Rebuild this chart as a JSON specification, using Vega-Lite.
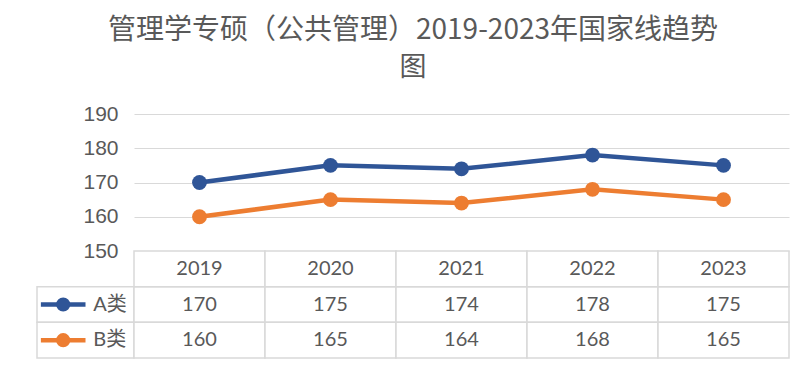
{
  "$schema": "https://vega.github.io/schema/vega-lite/v6.json",
  "background": "white",
  "padding": {"left": 36, "top": 17, "right": 24, "bottom": 20},
  "title": {
    "text": "管理学专硕（公共管理）2019-2023年国家线趋势",
    "subtitle": "图",
    "fontSize": 28,
    "subtitleFontSize": 27,
    "font": "Noto Sans CJK SC",
    "subtitleFont": "Noto Sans CJK SC",
    "fontWeight": "normal",
    "subtitleFontWeight": "normal",
    "color": "#595959",
    "subtitleColor": "#595959",
    "subtitlePadding": 10,
    "anchor": "middle",
    "offset": 22
  },
  "datasets": {
    "scores": [
      {"year": "2019", "series": "A类", "value": 170},
      {"year": "2020", "series": "A类", "value": 175},
      {"year": "2021", "series": "A类", "value": 174},
      {"year": "2022", "series": "A类", "value": 178},
      {"year": "2023", "series": "A类", "value": 175},
      {"year": "2019", "series": "B类", "value": 160},
      {"year": "2020", "series": "B类", "value": 165},
      {"year": "2021", "series": "B类", "value": 164},
      {"year": "2022", "series": "B类", "value": 168},
      {"year": "2023", "series": "B类", "value": 165}
    ]
  },
  "data": {"name": "scores"},
  "columns": 2,
  "spacing": 0,
  "bounds": "flush",
  "concat": [
    {
      "width": 97,
      "height": 137,
      "data": {"values": [{}]},
      "mark": "text",
      "encoding": {"text": {"value": ""}}
    },
    {
      "width": 655,
      "height": 137,
      "encoding": {
        "x": {"field": "year", "type": "ordinal", "scale": {"type": "point", "padding": 0.5}, "axis": null},
        "y": {
          "field": "value",
          "type": "quantitative",
          "scale": {"domain": [150, 190], "nice": false, "zero": false},
          "axis": {
            "values": [150, 160, 170, 180, 190],
            "domain": false,
            "ticks": false,
            "grid": true,
            "gridColor": "#d9d9d9",
            "labelFontSize": 21,
            "labelColor": "#595959",
            "labelFont": "Liberation Sans",
            "labelPadding": 16,
            "title": null
          }
        },
        "color": {
          "field": "series",
          "type": "nominal",
          "scale": {"domain": ["A类", "B类"], "range": ["#2F5597", "#ED7D31"]},
          "legend": null
        }
      },
      "layer": [
        {"mark": {"type": "line", "strokeWidth": 4.5}},
        {"mark": {"type": "point", "filled": true, "size": 220, "opacity": 1}}
      ]
    },
    {
      "width": 97,
      "height": 107,
      "transform": [{"aggregate": [{"op": "count", "as": "n"}], "groupby": ["series"]}],
      "encoding": {
        "y": {
          "field": "series",
          "type": "nominal",
          "scale": {"type": "band", "domain": ["header", "A类", "B类"], "paddingInner": 0, "paddingOuter": 0},
          "axis": null
        },
        "color": {
          "field": "series",
          "type": "nominal",
          "scale": {"domain": ["A类", "B类"], "range": ["#2F5597", "#ED7D31"]},
          "legend": null
        }
      },
      "layer": [
        {
          "mark": {"type": "rect", "fill": "white", "stroke": "#d9d9d9", "strokeWidth": 1.5},
          "encoding": {"color": {"value": "white"}}
        },
        {
          "mark": {"type": "rule", "strokeWidth": 4.5},
          "encoding": {
            "x": {"datum": 0.04, "type": "quantitative", "scale": {"domain": [0, 1]}, "axis": null},
            "x2": {"datum": 0.5}
          }
        },
        {
          "mark": {"type": "point", "filled": true, "size": 200, "opacity": 1},
          "encoding": {
            "x": {"datum": 0.27, "type": "quantitative", "scale": {"domain": [0, 1]}, "axis": null}
          }
        },
        {
          "mark": {"type": "text", "align": "left", "baseline": "middle", "fontSize": 20, "font": "Lato, Noto Sans CJK SC", "color": "#595959"},
          "encoding": {
            "x": {"datum": 0.58, "type": "quantitative", "scale": {"domain": [0, 1]}, "axis": null},
            "text": {"field": "series"},
            "color": {"value": "#595959"}
          }
        }
      ]
    },
    {
      "width": 655,
      "height": 107,
      "encoding": {
        "x": {"field": "year", "type": "ordinal", "scale": {"type": "band", "paddingInner": 0, "paddingOuter": 0}, "axis": null}
      },
      "layer": [
        {
          "mark": {"type": "rect", "fill": "white", "stroke": "#d9d9d9", "strokeWidth": 1.5},
          "encoding": {
            "y": {
              "field": "series",
              "type": "nominal",
              "scale": {"type": "band", "domain": ["header", "A类", "B类"], "paddingInner": 0, "paddingOuter": 0},
              "axis": null
            }
          }
        },
        {
          "mark": {"type": "text", "fontSize": 20, "font": "Lato", "color": "#595959", "baseline": "middle"},
          "encoding": {
            "y": {"field": "series", "type": "nominal"},
            "text": {"field": "value", "type": "quantitative"}
          }
        },
        {
          "transform": [{"aggregate": [{"op": "count", "as": "n"}], "groupby": ["year"]}],
          "mark": {"type": "rect", "fill": "white", "stroke": "#d9d9d9", "strokeWidth": 1.5},
          "encoding": {"y": {"datum": "header", "type": "nominal"}}
        },
        {
          "transform": [{"aggregate": [{"op": "count", "as": "n"}], "groupby": ["year"]}],
          "mark": {"type": "text", "fontSize": 20, "font": "Lato", "color": "#595959", "baseline": "middle"},
          "encoding": {
            "y": {"datum": "header", "type": "nominal"},
            "text": {"field": "year", "type": "nominal"}
          }
        }
      ]
    }
  ],
  "config": {"view": {"stroke": null}}
}
